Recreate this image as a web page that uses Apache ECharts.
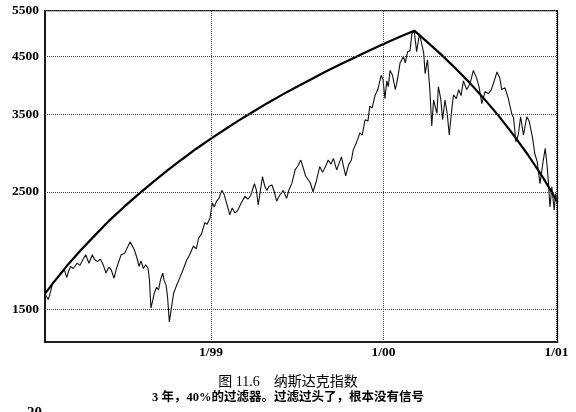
<!DOCTYPE html>
<html><head><meta charset="utf-8">
<script src="https://cdn.jsdelivr.net/npm/echarts@6/dist/echarts.min.js"></script>
<style>html,body{margin:0;padding:0;background:#fff}#c{width:576px;height:412px}</style>
</head><body><div id="c"></div>
<script>
// ---- tick labels ----
const xTickDates = ['1999-01-01', '2000-01-01', '2001-01-01'];
const xTickLabels = ['1/99', '1/00', '1/01'];
const yTickValues = [1500, 2500, 3500, 4500, 5500];

// ---- Nasdaq composite ----
const nasdaqDates = [
'1998-01-15','1998-01-17','1998-01-22','1998-01-27','1998-01-31','1998-02-05','1998-02-11','1998-02-17','1998-02-25','1998-03-02',
'1998-03-06','1998-03-10','1998-03-16','1998-03-24','1998-03-30','1998-04-05','1998-04-11','1998-04-18','1998-04-25','1998-04-30',
'1998-05-06','1998-05-12','1998-05-18','1998-05-24','1998-05-30','1998-06-04','1998-06-10','1998-06-16','1998-06-25','1998-07-02',
'1998-07-08','1998-07-14','1998-07-23','1998-07-28','1998-08-02','1998-08-06','1998-08-11','1998-08-16','1998-08-21','1998-08-24',
'1998-08-27','1998-08-31','1998-09-03','1998-09-08','1998-09-12','1998-09-16','1998-09-21','1998-09-24','1998-09-28','1998-10-01',
'1998-10-05','1998-10-09','1998-10-14','1998-10-20','1998-10-28','1998-11-03','1998-11-11','1998-11-17','1998-11-25','1998-12-01',
'1998-12-06','1998-12-12','1998-12-19','1998-12-24','1998-12-30',
'1999-01-04','1999-01-08','1999-01-13','1999-01-18','1999-01-24','1999-01-29','1999-02-03','1999-02-10','1999-02-15','1999-02-21',
'1999-02-26','1999-03-06','1999-03-14','1999-03-20','1999-03-26','1999-04-03','1999-04-07','1999-04-11','1999-04-20','1999-04-25',
'1999-04-29','1999-05-04','1999-05-10','1999-05-15','1999-05-20','1999-05-26','1999-06-03','1999-06-10','1999-06-15','1999-06-21',
'1999-06-28','1999-07-04','1999-07-10','1999-07-16','1999-07-20','1999-07-25','1999-07-30','1999-08-05','1999-08-12','1999-08-19',
'1999-08-25','1999-09-01','1999-09-06','1999-09-12','1999-09-17','1999-09-24','1999-10-04','1999-10-08','1999-10-13','1999-10-19',
'1999-10-25','1999-10-29','1999-11-05','1999-11-12','1999-11-17','1999-11-23','1999-11-29','1999-12-03','1999-12-08','1999-12-14',
'1999-12-20','1999-12-27','1999-12-31',
'2000-01-04','2000-01-08','2000-01-11','2000-01-15','2000-01-20','2000-01-26','2000-01-31','2000-02-05','2000-02-12','2000-02-16',
'2000-02-21','2000-02-26','2000-03-01','2000-03-06','2000-03-11','2000-03-17','2000-03-22','2000-03-26','2000-03-29','2000-04-03',
'2000-04-08','2000-04-12','2000-04-16','2000-04-20','2000-04-23','2000-04-26','2000-05-01','2000-05-05','2000-05-10','2000-05-15',
'2000-05-19','2000-05-24','2000-05-28','2000-06-03','2000-06-08','2000-06-13','2000-06-18','2000-06-25','2000-07-02','2000-07-09',
'2000-07-16','2000-07-21','2000-07-27','2000-08-03','2000-08-10','2000-08-16','2000-08-21','2000-08-28','2000-09-03','2000-09-07',
'2000-09-14','2000-09-21','2000-09-28','2000-10-02','2000-10-07','2000-10-12','2000-10-17','2000-10-23','2000-10-30','2000-11-04',
'2000-11-11','2000-11-16','2000-11-21','2000-11-27','2000-12-04','2000-12-08','2000-12-12','2000-12-15','2000-12-18','2000-12-22',
'2000-12-27','2000-12-30','2001-01-03'
];
const nasdaqValues = [
1600,1594,1564,1620,1680,1700,1720,1745,1780,1720,
1770,1806,1790,1832,1815,1860,1900,1832,1900,1860,
1845,1865,1820,1755,1800,1780,1716,1800,1900,1910,
1960,2010,1942,1880,1806,1850,1790,1820,1790,1700,
1507,1560,1607,1650,1630,1700,1755,1700,1665,1590,
1419,1500,1607,1660,1726,1780,1860,1900,1974,1950,
2043,2080,2185,2170,2230,
2380,2340,2400,2430,2515,2470,2380,2260,2330,2280,
2300,2380,2450,2420,2460,2590,2520,2360,2670,2560,
2515,2560,2575,2500,2400,2460,2515,2430,2520,2590,
2750,2800,2870,2760,2680,2640,2600,2500,2620,2790,
2720,2800,2870,2820,2890,2750,2910,2800,2680,2810,
2870,3000,3100,3230,3200,3420,3400,3630,3600,3800,
3900,4150,4070,
3750,4050,3950,4240,4150,3900,4100,4380,4500,4380,
4600,4620,4970,5030,4600,4970,4750,4570,4180,4440,
3900,3330,3727,3600,3515,3950,3750,3420,3727,3500,
3200,3550,3810,3750,3900,3800,4050,3900,4000,4240,
4100,3950,3670,3870,3830,3900,4020,4210,4100,3900,
3930,3750,3515,3450,3110,3200,3465,3200,3465,3400,
3170,2950,2850,2590,2870,3020,2800,2590,2340,2555,
2310,2480,2360
];

// ---- 3-year 40% filter line ----
const filterDates = [
'1998-01-15','1998-02-01','1998-03-01','1998-04-01','1998-05-01','1998-06-01','1998-07-01','1998-08-01','1998-09-01','1998-10-01',
'1998-11-01','1998-12-01','1999-01-01','1999-02-01','1999-03-01','1999-04-01','1999-05-01','1999-06-01','1999-07-01','1999-08-01',
'1999-09-01','1999-10-01','1999-11-01','1999-12-01','2000-01-01','2000-02-01','2000-03-06','2000-04-01','2000-05-01','2000-06-01',
'2000-07-01','2000-08-01','2000-09-01','2000-10-01','2000-11-01','2000-12-01','2000-12-15','2001-01-03'
];
const filterValues = [
1605,1680,1805,1940,2070,2210,2340,2475,2610,2745,
2880,3015,3150,3285,3410,3545,3680,3815,3945,4080,
4220,4350,4485,4620,4755,4890,5040,4810,4550,4280,
4020,3745,3475,3210,2940,2680,2555,2390
];

const t = s => echarts.time.parse(s).getTime();
const serif = "'Liberation Serif', 'Noto Sans CJK SC', serif";

const chart = echarts.init(document.getElementById('c'), null, {renderer: 'canvas'});

const gridMarks = [];
yTickValues.forEach(v => gridMarks.push({
  yAxis: v,
  label: {show: true, position: 'start', distance: 6, formatter: String(v),
          color: '#000', fontSize: 13.5, fontWeight: 'bold', fontFamily: serif}
}));
xTickDates.forEach((d, i) => gridMarks.push({
  xAxis: t(d),
  label: {show: true, position: 'start', distance: 4, formatter: xTickLabels[i],
          color: '#000', fontSize: 13.5, fontWeight: 'bold', fontFamily: serif}
}));

chart.setOption({
  animation: false,
  backgroundColor: '#fff',
  grid: {left: 45, right: 18.5, top: 10.6, bottom: 70, show: true,
         borderColor: '#000', borderWidth: 1.2, backgroundColor: 'transparent'},
  xAxis: {
    type: 'time', min: t('1998-01-15'), max: t('2001-01-03'),
    axisLine: {show: true, lineStyle: {color: '#000', width: 1.5}},
    axisTick: {show: false}, axisLabel: {show: false}, splitLine: {show: false}
  },
  yAxis: {
    type: 'log', logBase: 10, min: 1300, max: 5500,
    axisLine: {show: true, lineStyle: {color: '#000', width: 1.5}},
    axisTick: {show: false}, axisLabel: {show: false}, splitLine: {show: false}
  },
  series: [
    {
      name: 'Nasdaq', type: 'line', showSymbol: false, silent: true,
      data: nasdaqDates.map((d, i) => [t(d), nasdaqValues[i]]),
      lineStyle: {color: '#111', width: 1.1},
      z: 3,
      markLine: {
        silent: true, symbol: 'none', animation: false,
        lineStyle: {type: 'dotted', color: '#444', width: 1},
        data: gridMarks
      }
    },
    {
      name: 'Filter', type: 'line', showSymbol: false, silent: true,
      data: filterDates.map((d, i) => [t(d), filterValues[i]]),
      lineStyle: {color: '#000', width: 2.2},
      z: 4
    }
  ],
  graphic: [
    {type: 'text', left: 'center', top: 375, style: {
      text: '图 11.6　纳斯达克指数', fontSize: 14, fontFamily: serif, fill: '#000'}},
    {type: 'text', left: 'center', top: 391.5, style: {
      text: '3 年，40%的过滤器。过滤过头了，根本没有信号', fontSize: 12.5, fontWeight: 'bold',
      fontFamily: serif, fill: '#000'}},
    {type: 'text', left: 27, top: 406, style: {
      text: '20', fontSize: 15, fontWeight: 'bold', fontFamily: serif, fill: '#000'}}
  ]
});
</script>
</body></html>
